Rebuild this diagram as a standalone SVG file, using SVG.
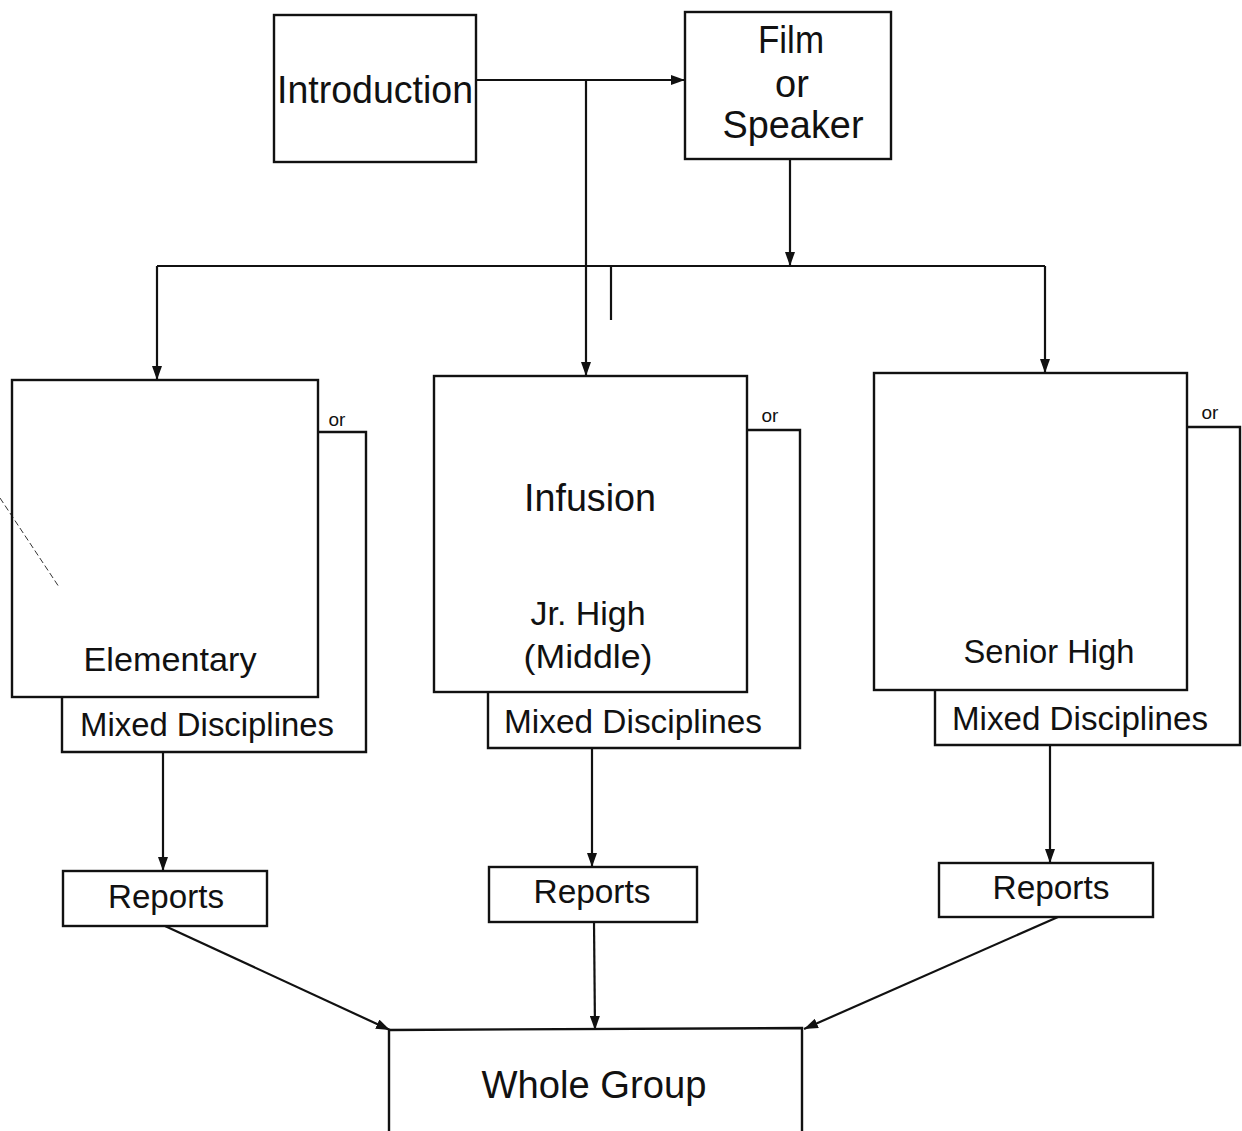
<svg xmlns="http://www.w3.org/2000/svg" width="1242" height="1131" viewBox="0 0 1242 1131">
<style>
.box{fill:none;stroke:#111;stroke-width:2.4}
.ln{fill:none;stroke:#111;stroke-width:2.2}
.t{font-family:"Liberation Sans",Arial,sans-serif;fill:#111;text-anchor:middle}
.big{font-size:38px}
.med{font-size:33px}
.sm{font-size:19px}
</style>
<defs>
<marker id="ah" viewBox="0 0 14 10" refX="14" refY="5" markerWidth="14" markerHeight="10" markerUnits="userSpaceOnUse" orient="auto">
<path d="M0,0 L14,5 L0,10 z" fill="#111"/>
</marker>
</defs>
<rect width="1242" height="1131" fill="#fff"/>

<g id="connectors">
<line class="ln" x1="476" y1="80" x2="685" y2="80" marker-end="url(#ah)"/>
<line class="ln" x1="586" y1="80" x2="586" y2="376" marker-end="url(#ah)"/>
<line class="ln" x1="790" y1="159" x2="790" y2="266" marker-end="url(#ah)"/>
<line class="ln" x1="157" y1="266" x2="1045" y2="266"/>
<line class="ln" x1="157" y1="266" x2="157" y2="380" marker-end="url(#ah)"/>
<line class="ln" x1="1045" y1="266" x2="1045" y2="373" marker-end="url(#ah)"/>
<line class="ln" x1="611" y1="266" x2="611" y2="320" stroke-width="1.5"/>
<line class="ln" x1="163" y1="752" x2="163" y2="871" marker-end="url(#ah)"/>
<line class="ln" x1="592" y1="748" x2="592" y2="867" marker-end="url(#ah)"/>
<line class="ln" x1="1050" y1="745" x2="1050" y2="863" marker-end="url(#ah)"/>
<line class="ln" x1="165" y1="926" x2="390" y2="1030" marker-end="url(#ah)"/>
<line class="ln" x1="594" y1="922" x2="595" y2="1030" marker-end="url(#ah)"/>
<line class="ln" x1="1058" y1="917" x2="804" y2="1029" marker-end="url(#ah)"/>
<line x1="0" y1="498" x2="59" y2="587" stroke="#333" stroke-width="1" stroke-dasharray="6 3"/>
</g>

<g id="introduction">
<rect class="box" x="274" y="15" width="202" height="147"/>
<text class="t big" x="375" y="103" textLength="196" lengthAdjust="spacingAndGlyphs">Introduction</text>
</g>

<g id="film">
<rect class="box" x="685" y="12" width="206" height="147"/>
<text class="t big" x="791" y="53" textLength="66" lengthAdjust="spacingAndGlyphs">Film</text>
<text class="t big" x="792" y="97">or</text>
<text class="t big" x="793" y="138" textLength="141" lengthAdjust="spacingAndGlyphs">Speaker</text>
</g>

<g id="elementary">
<polyline class="box" points="318,432 366,432 366,752 62,752 62,697"/>
<rect class="box" x="12" y="380" width="306" height="317"/>
<text class="t sm" x="337" y="426">or</text>
<text class="t med" x="170" y="671" textLength="173" lengthAdjust="spacingAndGlyphs">Elementary</text>
<text class="t med" x="207" y="736" textLength="254" lengthAdjust="spacingAndGlyphs">Mixed Disciplines</text>
</g>

<g id="infusion">
<polyline class="box" points="747,430 800,430 800,748 488,748 488,692"/>
<rect class="box" x="434" y="376" width="313" height="316"/>
<text class="t sm" x="770" y="422">or</text>
<text class="t big" x="590" y="511" textLength="132" lengthAdjust="spacingAndGlyphs">Infusion</text>
<text class="t med" x="588" y="625" textLength="115" lengthAdjust="spacingAndGlyphs">Jr. High</text>
<text class="t med" x="588" y="668" textLength="129" lengthAdjust="spacingAndGlyphs">(Middle)</text>
<text class="t med" x="633" y="733" textLength="258" lengthAdjust="spacingAndGlyphs">Mixed Disciplines</text>
</g>

<g id="senior">
<polyline class="box" points="1187,427 1240,427 1240,745 935,745 935,690"/>
<rect class="box" x="874" y="373" width="313" height="317"/>
<text class="t sm" x="1210" y="419">or</text>
<text class="t med" x="1049" y="663" textLength="171" lengthAdjust="spacingAndGlyphs">Senior High</text>
<text class="t med" x="1080" y="730" textLength="256" lengthAdjust="spacingAndGlyphs">Mixed Disciplines</text>
</g>

<g id="reports1">
<rect class="box" x="63" y="871" width="204" height="55"/>
<text class="t med" x="166" y="908" textLength="116" lengthAdjust="spacingAndGlyphs">Reports</text>
</g>
<g id="reports2">
<rect class="box" x="489" y="867" width="208" height="55"/>
<text class="t med" x="592" y="903" textLength="117" lengthAdjust="spacingAndGlyphs">Reports</text>
</g>
<g id="reports3">
<rect class="box" x="939" y="863" width="214" height="54"/>
<text class="t med" x="1051" y="899" textLength="117" lengthAdjust="spacingAndGlyphs">Reports</text>
</g>

<g id="whole-group">
<polyline class="box" points="389,1140 389,1030 802,1028 802,1140"/>
<text class="t big" x="594" y="1098" textLength="225" lengthAdjust="spacingAndGlyphs">Whole Group</text>
</g>
</svg>
